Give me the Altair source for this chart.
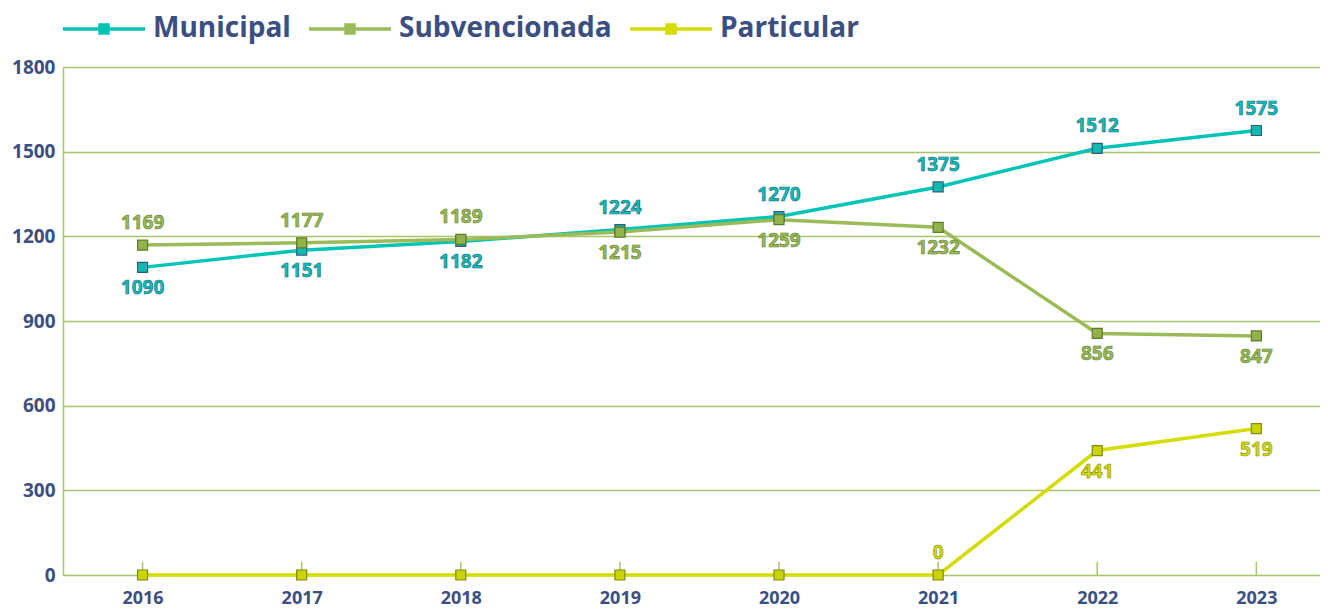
import altair as alt
import pandas as pd

years = [2016, 2017, 2018, 2019, 2020, 2021, 2022, 2023]
series = ["Municipal", "Subvencionada", "Particular"]
municipal = [1090, 1151, 1182, 1224, 1270, 1375, 1512, 1575]
subvencionada = [1169, 1177, 1189, 1215, 1259, 1232, 856, 847]
particular = [0, 0, 0, 0, 0, 0, 441, 519]

# label placement per point: 1 above, -1 below, 0 no label
muni_side = [-1, -1, -1, 1, 1, 1, 1, 1]
subv_side = [1, 1, 1, -1, -1, -1, -1, -1]
part_side = [0, 0, 0, 0, 0, 1, -1, -1]

rows = []
for name, vals, sides in zip(series, [municipal, subvencionada, particular],
                             [muni_side, subv_side, part_side]):
    for yr, v, s in zip(years, vals, sides):
        rows.append(dict(year=yr, serie=name, value=v, side=s))
df = pd.DataFrame(rows)
ticks_df = pd.DataFrame({"year": years})

line_colors = ["#00C4B6", "#9BBB59", "#D4DC00"]
fill_colors = ["#12B9B0", "#92B24A", "#CCD400"]
edge_colors = ["#2F5C80", "#5E7B2A", "#7F8A12"]
GRID = "#A8C46C"
TXT = "#3B4F81"
W, H = 1257, 508

x_enc = alt.X("year:Q", scale=alt.Scale(domain=[2015.5, 2023.4], nice=False, zero=False),
              axis=alt.Axis(values=years, format="d", title=None, grid=False, domain=False,
                            ticks=False, labelPadding=14, labelFont="Open Sans",
                            labelFontSize=18, labelFontWeight="bold", labelColor=TXT))
y_enc = alt.Y("value:Q", scale=alt.Scale(domain=[0, 1800], nice=False),
              axis=alt.Axis(values=[0, 300, 600, 900, 1200, 1500, 1800], format="d",
                            title=None, grid=True, gridColor=GRID, gridWidth=1.5,
                            domainColor=GRID, domainWidth=1.5, ticks=False, labelPadding=8,
                            labelFont="Open Sans", labelFontSize=19, labelFontWeight="bold",
                            labelColor=TXT))

color_scale = alt.Scale(domain=series, range=line_colors)
fill_scale = alt.Scale(domain=series, range=fill_colors)
stroke_scale = alt.Scale(domain=series, range=edge_colors)

sym = "M-1,-0.042L1,-0.042L1,0.042L-1,0.042Z M-0.14,-0.14L0.14,-0.14L0.14,0.14L-0.14,0.14Z"

leg = alt.Legend(title=None, orient="top", direction="horizontal", symbolType=sym,
                 symbolSize=82 * 82, symbolStrokeWidth=0, symbolOpacity=1,
                 labelFont="Open Sans",
                 labelFontSize=28, labelFontWeight="bold", labelLimit=400,
                 labelColor=TXT, labelOffset=8, columnPadding=18, offset=24)

base = alt.Chart(df)

lines = base.mark_line(strokeWidth=3.5).encode(
    x=x_enc, y=y_enc,
    color=alt.Color("serie:N", scale=color_scale, legend=leg),
    detail="serie:N",
)

points = base.mark_square(size=100, opacity=1, strokeWidth=1.2).encode(
    x="year:Q", y="value:Q",
    fill=alt.Fill("serie:N", scale=fill_scale, legend=leg),
    stroke=alt.Stroke("serie:N", scale=stroke_scale, legend=leg),
)

def labels(side, dy):
    return base.transform_filter(alt.datum.side == side).mark_text(
        font="Open Sans", fontSize=19, fontWeight="bold", dy=dy,
        baseline="middle", strokeWidth=0.6,
    ).encode(
        x="year:Q", y="value:Q", text="value:Q",
        color=alt.Color("serie:N", scale=color_scale, legend=leg),
        stroke=alt.Stroke("serie:N", scale=stroke_scale, legend=leg),
    )

tick_marks = alt.Chart(ticks_df).mark_rule(color=GRID, strokeWidth=1.5).encode(
    x="year:Q", y=alt.value(H - 13), y2=alt.value(H))

chart = alt.layer(tick_marks, lines, points, labels(1, -22), labels(-1, 21)).properties(
    width=W, height=H,
    autosize=alt.AutoSizeParams(type="none"),
    padding={"left": 55, "top": 59, "right": 0, "bottom": 34},
).configure_view(stroke=None).configure(background="white")

chart.save("out.html", embed_options={"renderer": "svg", "actions": False})
